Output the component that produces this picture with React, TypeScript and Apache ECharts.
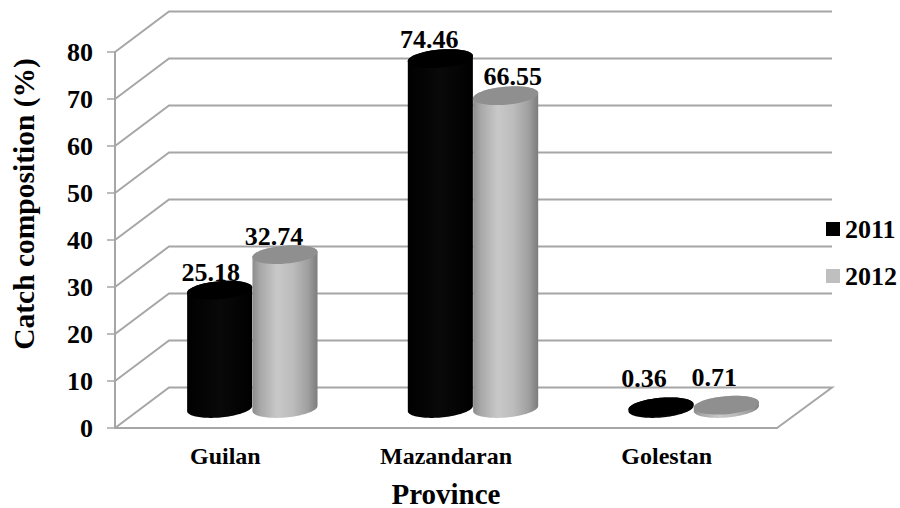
import React, { useEffect, useRef } from "react";
import * as echarts from "echarts";

const provinces = ["Guilan", "Mazandaran", "Golestan"];
const values2011 = [25.18, 74.46, 0.36];
const values2012 = [32.74, 66.55, 0.71];
const gridTicks = [0, 10, 20, 30, 40, 50, 60, 70, 80];
const yTitle = "Catch composition (%)";
const xTitle = "Province";

// placement of the hand-moved value labels, relative to each cylinder's top
const labelShift2011 = [[-9, -5], [-11, -6], [-17, -15]];
const labelShift2012 = [[-11, -5], [7, -6], [-12, -15]];

const SERIF = '"Liberation Serif", "Times New Roman", serif';
const LINE = "#a6a6a6";
const BACK_DX = 54;
const BACK_DY = -40.5;
const MID_DX = 27;
const MID_DY = -19.5;
const TILT = (-5 * Math.PI) / 180;
const ARC_STEPS = 48;

// part of a tilted ellipse, from angle t0 to t1
function arcPoints(cx: number, cy: number, a: number, b: number, t0: number, t1: number) {
  const pts: number[][] = [];
  for (let i = 0; i <= ARC_STEPS; i++) {
    const t = t0 + ((t1 - t0) * i) / ARC_STEPS;
    const u = a * Math.cos(t);
    const w = b * Math.sin(t);
    pts.push([cx + u * Math.cos(TILT) - w * Math.sin(TILT), cy + u * Math.sin(TILT) + w * Math.cos(TILT)]);
  }
  return pts;
}

function cylinderItem(side: number, shifts: number[][], bodyStops: any[], topFill: any) {
  return (_params: any, api: any) => {
    const cat = api.value(0);
    const val = api.value(1);
    const band = api.size([1, 0])[0];
    const a = band * 0.148;
    const b = 9;
    const [cx0, yb0] = api.coord([cat, 0]);
    const [, yt0] = api.coord([cat, val]);
    const cx = cx0 + MID_DX + side * a;
    const yb = yb0 + MID_DY;
    const yt = yt0 + MID_DY;
    // lower half of the base (left to right through the bottom), upper half of the top
    const lower = arcPoints(cx, yb, a, b, Math.PI, 0);
    const upper = arcPoints(cx, yt, a, b, 0, -Math.PI);
    const topFace = arcPoints(cx, yt, a, b, 0, Math.PI * 2);
    const shift = shifts[cat];
    return {
      type: "group",
      children: [
        {
          type: "polygon",
          shape: { points: [...lower, ...upper] },
          style: { fill: new echarts.graphic.LinearGradient(0, 0, 1, 0, bodyStops) },
        },
        { type: "polygon", shape: { points: topFace }, style: { fill: topFill } },
        {
          type: "text",
          z2: 50,
          style: {
            text: String(val),
            x: cx + shift[0],
            y: yt + shift[1],
            align: "center",
            verticalAlign: "bottom",
            font: `bold 26px ${SERIF}`,
            fill: "#000",
          },
        },
      ],
    };
  };
}

function gridItem(params: any, api: any) {
  const v = api.value(1);
  const cs = params.coordSys;
  const y = api.coord([0, v])[1];
  const left = cs.x;
  const right = cs.x + cs.width;
  const points = [
    [left, y],
    [left + BACK_DX, y + BACK_DY],
    [right + 55, y + BACK_DY],
  ];
  if (v === 0) points.push([right, y]);
  return {
    type: "polyline",
    shape: { points },
    style: { stroke: LINE, lineWidth: 2, fill: "none" },
  };
}

export default function App() {
  const ref = useRef<HTMLDivElement>(null);
  useEffect(() => {
    document.body.style.margin = "0";
    const chart = echarts.init(ref.current!, null, { renderer: "svg" });
    const grayStops = [
      { offset: 0, color: "#8c8c8c" },
      { offset: 0.12, color: "#a8a8a8" },
      { offset: 0.38, color: "#c8c8c8" },
      { offset: 0.62, color: "#bcbcbc" },
      { offset: 0.85, color: "#a0a0a0" },
      { offset: 1, color: "#7c7c7c" },
    ];
    const blackStops = [
      { offset: 0, color: "#000" },
      { offset: 0.5, color: "#090909" },
      { offset: 1, color: "#000" },
    ];
    chart.setOption({
      animation: false,
      backgroundColor: "#fff",
      textStyle: { fontFamily: SERIF },
      grid: { left: 115, right: 123, top: 52, bottom: 80, containLabel: false, outerBoundsMode: "none" },
      legend: {
        data: ["2011", "2012"],
        orient: "vertical",
        left: 826,
        top: 216,
        itemWidth: 14,
        itemHeight: 14,
        itemGap: 21,
        icon: "rect",
        padding: 0,
        selectedMode: false,
        textStyle: {
          fontFamily: SERIF,
          fontWeight: "bold",
          fontSize: 26,
          color: "#000",
        },
      },
      graphic: [
        {
          type: "text",
          x: 24,
          y: 204,
          rotation: Math.PI / 2,
          style: {
            text: yTitle,
            align: "center",
            verticalAlign: "middle",
            font: `bold 29.5px ${SERIF}`,
            fill: "#000",
          },
        },
      ],
      xAxis: {
        type: "category",
        data: provinces,
        axisLine: { lineStyle: { color: LINE, width: 2 } },
        axisTick: { show: false },
        axisLabel: {
          color: "#000",
          fontFamily: SERIF,
          fontWeight: "bold",
          fontSize: 24,
          margin: 16,
        },
        name: xTitle,
        nameLocation: "middle",
        nameGap: 51,
        nameTextStyle: { color: "#000", fontFamily: SERIF, fontWeight: "bold", fontSize: 29 },
      },
      yAxis: {
        type: "value",
        min: 0,
        max: 80,
        interval: 10,
        splitLine: { show: false },
        axisLine: { show: true, lineStyle: { color: LINE, width: 2 } },
        axisTick: { show: true, length: 8, lineStyle: { color: LINE, width: 1.5 } },
        axisLabel: {
          color: "#000",
          fontFamily: SERIF,
          fontWeight: "bold",
          fontSize: 26,
          margin: 22,
        },
      },
      series: [
        {
          name: "walls",
          type: "custom",
          z: 1,
          silent: true,
          clip: false,
          data: gridTicks.map((t) => [0, t]),
          renderItem: gridItem,
        },
        {
          name: "2011",
          type: "custom",
          z: 3,
          clip: false,
          itemStyle: { color: "#000" },
          data: values2011.map((v, i) => [i, v]),
          renderItem: cylinderItem(-1, labelShift2011, blackStops, "#000"),
        },
        {
          name: "2012",
          type: "custom",
          z: 4,
          clip: false,
          itemStyle: { color: "#bfbfbf" },
          data: values2012.map((v, i) => [i, v]),
          renderItem: cylinderItem(1, labelShift2012, grayStops, "#8f8f8f"),
        },
      ],
    });
    return () => chart.dispose();
  }, []);
  return <div ref={ref} style={{ width: 900, height: 508 }} />;
}
